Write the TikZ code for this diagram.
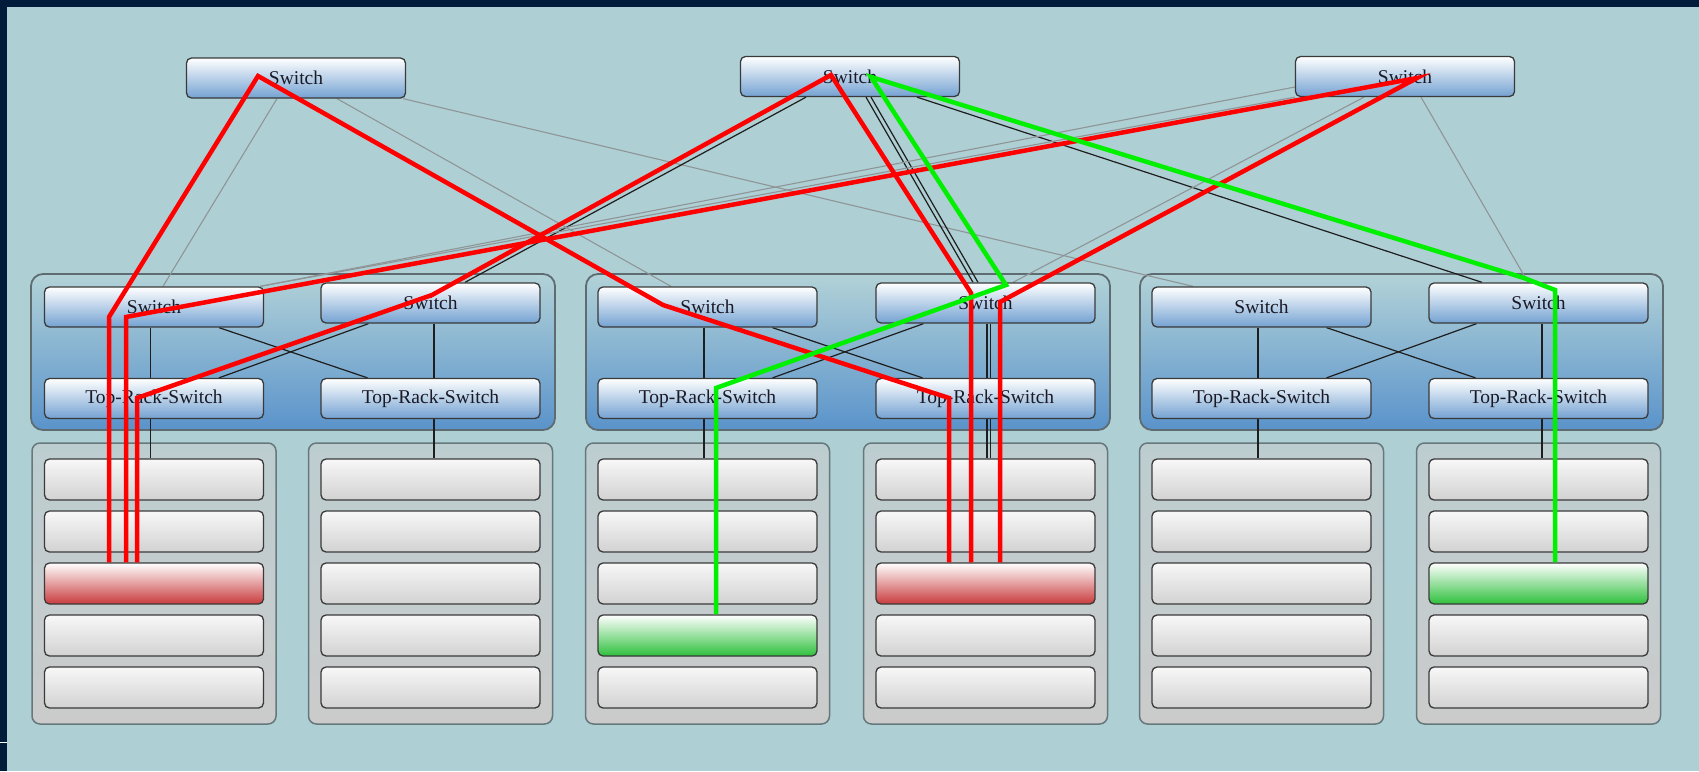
\documentclass[tikz,border=0pt]{standalone}
\usepackage{fontspec}
\setmainfont{Liberation Serif}
\usetikzlibrary{calc}

\definecolor{canvas}{HTML}{AECFD4}
\definecolor{frame}{HTML}{001C3A}
\definecolor{grouptop}{HTML}{B2D2D7}
\definecolor{groupbot}{HTML}{5A93CB}
\definecolor{groupedge}{HTML}{5E6C71}
\definecolor{racktop}{HTML}{BCCDD0}
\definecolor{rackbot}{HTML}{CBCBCB}
\definecolor{rackedge}{HTML}{66787C}
\definecolor{boxedge}{HTML}{3A3A3A}
\definecolor{swbot}{HTML}{74A2D2}
\definecolor{srvbot}{HTML}{D2D2D2}
\definecolor{hotbot}{HTML}{C93B3D}
\definecolor{okbot}{HTML}{2EC03C}
\definecolor{linkgray}{HTML}{8F9597}
\definecolor{linkdark}{HTML}{1E1E1E}
\definecolor{pathred}{HTML}{FF0000}
\definecolor{pathgreen}{HTML}{00F000}
\definecolor{labelink}{HTML}{1A1A26}

\pgfdeclarelayer{back}
\pgfdeclarelayer{links}
\pgfsetlayers{back,links,main}

\tikzset{
  box/.style={draw=boxedge, line width=1.3pt, rounded corners=5pt,
    minimum width=219pt, minimum height=40pt, inner sep=0pt,
    text=labelink, font=\fontsize{19.5}{20}\selectfont},
  swbox/.style={box, top color=white, bottom color=swbot},
  srvbox/.style={box, minimum height=41pt, top color=white!97!black, bottom color=srvbot},
  hotbox/.style={top color=white, bottom color=hotbot},
  okbox/.style={top color=white, bottom color=okbot},
  srv 13/.style={hotbox},
  srv 43/.style={hotbox},
  srv 34/.style={okbox},
  srv 63/.style={okbox},
  grouppanel/.style={draw=groupedge, line width=1.8pt, rounded corners=12pt,
    top color=grouptop, bottom color=groupbot},
  rackpanel/.style={draw=rackedge, line width=1.5pt, rounded corners=8pt,
    top color=racktop, bottom color=rackbot},
  graylink/.style={draw=linkgray, line width=1.1pt},
  darklink/.style={draw=linkdark, line width=1.2pt},
  redroute/.style={draw=pathred, line width=4.5pt},
  greenroute/.style={draw=pathgreen, line width=4.5pt},
}

\begin{document}
\begin{tikzpicture}[x=1pt,y=-1pt]
\useasboundingbox (0,0) rectangle (1699,771);

% core switches
\node[swbox] (tl) at (296,78)   {Switch};
\node[swbox] (tm) at (850,76.5) {Switch};
\node[swbox] (tr) at (1405,76.5) {Switch};

% aggregation switches
\node[swbox] (g1l) at (154,307)    {Switch};
\node[swbox] (g1r) at (430.5,303)  {Switch};
\node[swbox] (g2l) at (707.5,307)  {Switch};
\node[swbox] (g2r) at (985.5,303)  {Switch};
\node[swbox] (g3l) at (1261.5,307) {Switch};
\node[swbox] (g3r) at (1538.5,303) {Switch};

% top-of-rack switches
\node[swbox] (t1l) at (154,398.5)    {Top-Rack-Switch};
\node[swbox] (t1r) at (430.5,398.5)  {Top-Rack-Switch};
\node[swbox] (t2l) at (707.5,398.5)  {Top-Rack-Switch};
\node[swbox] (t2r) at (985.5,398.5)  {Top-Rack-Switch};
\node[swbox] (t3l) at (1261.5,398.5) {Top-Rack-Switch};
\node[swbox] (t3r) at (1538.5,398.5) {Top-Rack-Switch};

% servers, five per rack
\foreach \cx [count=\k] in {154,430.5,707.5,985.5,1261.5,1538.5} {
  \foreach \ry [count=\j] in {479.5,531.5,583.5,635.5,687.5} {
    \node[srvbox, srv \k\j/.try] (r\k\j) at (\cx,\ry) {};
  }
}

% window background, frame, pod panels and rack panels
\begin{pgfonlayer}{back}
  \fill[canvas] (0,0) rectangle (1699,771);
  \fill[frame] (0,0) rectangle (1699,7);
  \fill[frame] (0,0) rectangle (7,771);
  \draw[white, line width=1pt] (0,742) -- (7,742);
  \draw[grouppanel] (31,274) rectangle (555,430);
  \draw[grouppanel] (586,274) rectangle (1110,430);
  \draw[grouppanel] (1140,274) rectangle (1663,430);
  \foreach \cx in {154,430.5,707.5,985.5,1261.5,1538.5} {
    \draw[rackpanel] (\cx-122,443) rectangle (\cx+122,724);
  }
\end{pgfonlayer}

% physical links
\begin{pgfonlayer}{links}
  % core to aggregation
  \draw[graylink] ([xshift=-19pt]tl.south) -- ([xshift=9pt]g1l.north);
  \draw[graylink] ([xshift=41pt]tl.south) -- ([xshift=-36.5pt]g2l.north);
  \draw[graylink] ([xshift=-3pt]tl.south east) -- ([xshift=-68.5pt]g3l.north);
  \draw[darklink] ([xshift=-44pt]tm.south) -- ([xshift=34.5pt]g1r.north);
  \draw[darklink] ([xshift=16pt]tm.south) -- ([xshift=-12.5pt]g2r.north);
  \draw[darklink] ([xshift=21pt]tm.south) -- ([xshift=-7.5pt]g2r.north);
  \draw[darklink] ([xshift=67pt]tm.south) -- ([xshift=-56.5pt]g3r.north);
  \draw[graylink] (tr.south west) -- ([xshift=-4pt]g1l.north east);
  \draw[graylink] ([yshift=-10.5pt]tr.west) -- ([xshift=-4pt]g1l.north east);
  \draw[graylink] ([xshift=-41pt]tr.south) -- ([xshift=27.5pt]g2r.north);
  \draw[graylink] ([xshift=16pt]tr.south) -- ([xshift=-10.5pt]g3r.north);
  % inside each pod
  \foreach \g/\a in {1/1,2/3,3/5} {
    \draw[darklink] ([xshift=-3.5pt]g\g l.south) -- ([xshift=-3.5pt]t\g l.north);
    \draw[darklink] ([xshift=-3.5pt]t\g l.south) -- ([xshift=-3.5pt]r\a1.north);
    \draw[darklink] ([xshift=65pt]g\g l.south) -- ([xshift=-63pt]t\g r.north);
    \draw[darklink] ([xshift=-62pt]g\g r.south) -- ([xshift=65pt]t\g l.north);
  }
  \draw[darklink] ([xshift=3.5pt]g1r.south) -- ([xshift=3.5pt]t1r.north);
  \draw[darklink] ([xshift=3.5pt]t1r.south) -- ([xshift=3.5pt]r21.north);
  \draw[darklink] ([xshift=1.5pt]g2r.south) -- ([xshift=1.5pt]t2r.north);
  \draw[darklink] ([xshift=5pt]g2r.south) -- ([xshift=5pt]t2r.north);
  \draw[darklink] ([xshift=1.5pt]t2r.south) -- ([xshift=1.5pt]r41.north);
  \draw[darklink] ([xshift=5pt]t2r.south) -- ([xshift=5pt]r41.north);
  \draw[darklink] ([xshift=3.5pt]g3r.south) -- ([xshift=3.5pt]t3r.north);
  \draw[darklink] ([xshift=3.5pt]t3r.south) -- ([xshift=3.5pt]r61.north);
\end{pgfonlayer}

% routes between the highlighted servers
\draw[redroute] ([xshift=-45pt]r13.north) -- ($(g1l.center)+(-45,10)$)
  -- ($(tl.center)+(-38,-2)$) -- ($(g2l.center)+(-44.5,-2)$)
  -- ($(t2r.center)+(-36.5,-0.5)$) -- ([xshift=-36.5pt]r43.north);
\draw[redroute] ([xshift=-28pt]r13.north) -- ($(g1l.center)+(-28,10)$)
  -- ($(tr.center)+(12,1.5)$) -- ($(g2r.center)+(14.5,-1)$)
  -- ([xshift=14.5pt]r43.north);
\draw[redroute] ([xshift=-17pt]r13.north) -- ($(t1l.center)+(-17,-0.5)$)
  -- ($(g1r.center)+(1.5,-8)$) -- ($(tm.center)+(-19,-1.5)$)
  -- ($(g2r.center)+(-14.5,-10)$) -- ([xshift=-14.5pt]r43.north);
\draw[greenroute] ([xshift=8.5pt]r34.north) -- ($(t2l.center)+(8.5,-10.5)$)
  -- ($(g2r.center)+(20.5,-18)$) -- ($(tm.center)+(21,0.5)$)
  -- ($(g3r.center)+(-14.5,-25)$) -- ($(g3r.center)+(16.5,-13)$)
  -- ([xshift=16.5pt]r63.north);
\end{tikzpicture}
\end{document}
